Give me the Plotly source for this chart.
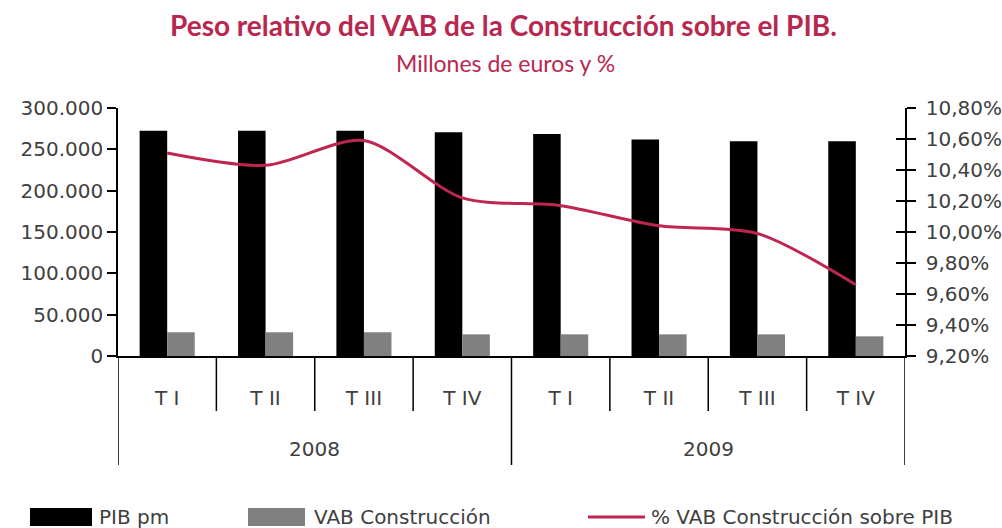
import plotly.graph_objects as go

# ---- data ----
years = ["2008", "2008", "2008", "2008", "2009", "2009", "2009", "2009"]
quarters = ["T I", "T II", "T III", "T IV", "T I", "T II", "T III", "T IV"]
pib_pm = [272500, 272500, 272500, 270600, 268500, 262000, 259700, 259700]
vab_construccion = [28700, 28700, 28700, 26200, 26200, 26200, 26200, 23800]
pct_vab = [10.51, 10.43, 10.59, 10.22, 10.17, 10.04, 9.99, 9.66]
year_labels = ["2008", "2009"]

left_ticks = [0, 50000, 100000, 150000, 200000, 250000, 300000]

# ---- geometry helpers (pixel layout of the reference) ----
W, H = 1002, 528
L, R, T, B = 118, 905, 108, 356
PH = B - T
PW = R - L


def py(px_y):
    return (B - px_y) / PH


def pxx(px_x):
    return (px_x - L) / PW


idx = list(range(len(quarters)))
crimson = "#BE2650"
txt = "#404040"
font_fam = "DejaVu Sans"

fig = go.Figure()
fig.add_trace(go.Bar(x=idx, y=pib_pm, name="PIB pm", marker=dict(color="#000000", line=dict(width=0)),
                     showlegend=False))
fig.add_trace(go.Bar(x=idx, y=vab_construccion, name="VAB Construcción",
                     marker=dict(color="#808080", line=dict(width=0)), showlegend=False))
fig.add_trace(go.Scatter(x=idx, y=pct_vab, name="% VAB Construcción sobre PIB", yaxis="y2",
                         mode="lines", line=dict(color=crimson, width=3, shape="spline", smoothing=0.8),
                         showlegend=False))
# invisible trace to hold the inner ticks axis
fig.add_trace(go.Scatter(x=[idx[0]], y=[pct_vab[0]], yaxis="y3", mode="markers",
                         marker=dict(opacity=0), showlegend=False, hoverinfo="skip"))

shapes = []
n = len(quarters)
# quarter dividers
for k in range(1, n):
    b = k - 0.5
    if years[k] != years[k - 1]:
        continue
    shapes.append(dict(type="line", xref="x", yref="paper", x0=b, x1=b, y0=0, y1=py(411),
                       line=dict(color="#000000", width=1.5)))
# year dividers (including ends)
bounds = [-0.5] + [k - 0.5 for k in range(1, n) if years[k] != years[k - 1]] + [n - 0.5]
for b in bounds:
    shapes.append(dict(type="line", xref="x", yref="paper", x0=b, x1=b, y0=0, y1=py(465),
                       line=dict(color="#000000", width=1.5)))

# manual legend
leg_y0, leg_y1 = py(526), py(508)
shapes.append(dict(type="rect", xref="paper", yref="paper", x0=pxx(30), x1=pxx(92), y0=leg_y0, y1=leg_y1,
                   fillcolor="#000000", line=dict(width=0)))
shapes.append(dict(type="rect", xref="paper", yref="paper", x0=pxx(248), x1=pxx(305), y0=leg_y0, y1=leg_y1,
                   fillcolor="#808080", line=dict(width=0)))
shapes.append(dict(type="line", xref="paper", yref="paper", x0=pxx(588), x1=pxx(645), y0=py(517), y1=py(517),
                   line=dict(color=crimson, width=3)))

annotations = [
    dict(text="<b>Peso relativo del VAB de la Construcción sobre el PIB.</b>", xref="paper", yref="paper",
         x=pxx(503), y=py(25), showarrow=False, xanchor="center", yanchor="middle",
         font=dict(family="Lato", size=28, color="#B8274F")),
    dict(text="Millones de euros y %", xref="paper", yref="paper",
         x=pxx(505), y=py(63), showarrow=False, xanchor="center", yanchor="middle",
         font=dict(family="Lato", size=23, color="#B8274F")),
]
# year labels centered in their groups
for yl in year_labels:
    pos = [i for i, y in enumerate(years) if y == yl]
    annotations.append(dict(text=yl, xref="x", yref="paper", x=(pos[0] + pos[-1]) / 2, y=py(449),
                            showarrow=False, xanchor="center", yanchor="middle",
                            font=dict(family=font_fam, size=20, color=txt)))
legend_items = [("PIB pm", 97), ("VAB Construcción", 312), ("% VAB Construcción sobre PIB", 649)]
for name, xpix in legend_items:
    annotations.append(dict(text=name, xref="paper", yref="paper", x=pxx(xpix), y=py(517),
                            showarrow=False, xanchor="left", yanchor="middle",
                            font=dict(family=font_fam, size=20, color=txt)))

fig.update_layout(
    width=W, height=H,
    margin=dict(l=L, r=W - R, t=T, b=H - B, pad=0, autoexpand=False),
    paper_bgcolor="white", plot_bgcolor="white",
    separators=",.",
    barmode="group", bargap=0.44, bargroupgap=0,
    showlegend=False,
    font=dict(family=font_fam, size=18, color=txt),
    xaxis=dict(range=[-0.5, n - 0.5], tickvals=idx, ticktext=quarters, ticks="", automargin=False,
               showline=True, linecolor="#000000", linewidth=1.5, showgrid=False, zeroline=False,
               ticklabelstandoff=23, tickfont=dict(family=font_fam, size=20, color=txt)),
    yaxis=dict(range=[0, 300000], tickvals=left_ticks, tickformat=",d", ticks="outside", ticklen=9,
               automargin=False,
               tickcolor="#000000", tickwidth=1.5, showline=True, linecolor="#000000", linewidth=1.5,
               showgrid=False, zeroline=False, tickfont=dict(family=font_fam, size=20, color=txt)),
    yaxis2=dict(range=[9.2, 10.8], tick0=9.2, dtick=0.2, tickformat=".2f", ticksuffix="%",
                overlaying="y", side="right", anchor="x", ticks="outside", ticklen=9, automargin=False,
                tickcolor="#000000", tickwidth=1.5, showline=True, linecolor="#000000", linewidth=1.5,
                showgrid=False, zeroline=False, ticklabelstandoff=6,
                tickfont=dict(family=font_fam, size=20, color=txt)),
    yaxis3=dict(range=[9.2, 10.8], tick0=9.2, dtick=0.2, overlaying="y", side="right", anchor="x",
                ticks="inside", ticklen=9, tickcolor="#000000", tickwidth=1.5, showticklabels=False,
                automargin=False, showline=False, showgrid=False, zeroline=False),
    shapes=shapes,
    annotations=annotations,
)

fig.write_html("out.html", config={"displayModeBar": False},
               post_script="document.body.style.margin='0';document.body.style.padding='0';")
